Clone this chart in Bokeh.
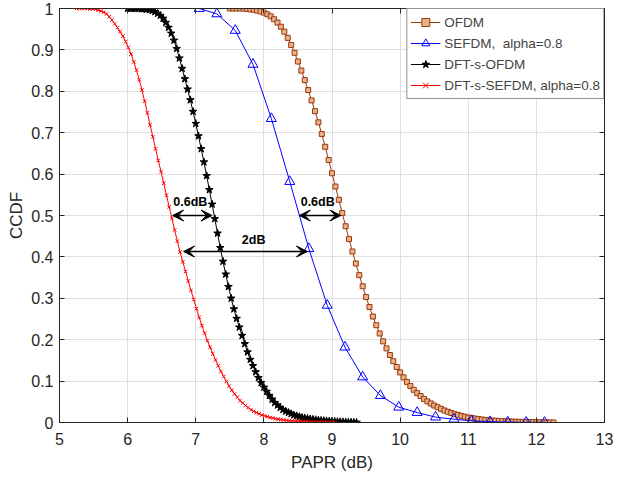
from bokeh.plotting import figure
from bokeh.models import (ColumnDataSource, FixedTicker, LinearAxis, Legend,
                          LegendItem, Arrow, VeeHead, Range1d, CustomLabelingPolicy)
from bokeh.core.properties import value
from bokeh.embed import file_html
from bokeh.resources import INLINE

FONT = "Liberation Sans"

# ---------------- data ----------------
x_ticks = [5, 6, 7, 8, 9, 10, 11, 12, 13]
x_tick_labels = ["5", "6", "7", "8", "9", "10", "11", "12", "13"]
y_ticks = [0, 0.1, 0.2, 0.3, 0.4, 0.5, 0.6, 0.7, 0.8, 0.9, 1]
y_tick_labels = ["0", "0.1", "0.2", "0.3", "0.4", "0.5", "0.6", "0.7", "0.8", "0.9", "1"]

# OFDM  (bins start 7.50 dB, 0.05 dB apart)
ofdm_start, ofdm_step = 7.50, 0.05
ofdm_y = [1.000, 1.000, 1.000, 1.000, 1.000, 0.999, 0.998, 0.997, 0.995, 0.993,
          0.990, 0.986, 0.981, 0.974, 0.966, 0.956, 0.944, 0.929, 0.912, 0.893,
          0.872, 0.850, 0.827, 0.803, 0.778, 0.752, 0.725, 0.697, 0.666, 0.634,
          0.602, 0.570, 0.538, 0.506, 0.474, 0.443, 0.413, 0.384, 0.356, 0.329,
          0.303, 0.279, 0.256, 0.235, 0.215, 0.196, 0.179, 0.163, 0.148, 0.134,
          0.121, 0.109, 0.098, 0.088, 0.079, 0.071, 0.064, 0.057, 0.051, 0.046,
          0.041, 0.037, 0.033, 0.029, 0.026, 0.023, 0.020, 0.018, 0.016, 0.014,
          0.012, 0.011, 0.0095, 0.0083, 0.0072, 0.0063, 0.0055, 0.0048, 0.0042, 0.0037,
          0.0032, 0.0028, 0.0024, 0.0021, 0.0018, 0.0016, 0.0014, 0.0012, 0.0010, 0.0008,
          0.0007, 0.0005, 0.0004, 0.0003, 0.0002, 0.0001]

# SEFDM, alpha = 0.8
sefdm_x = [7.05, 7.31, 7.58, 7.84, 8.11, 8.38, 8.66, 8.93, 9.19, 9.45,
           9.71, 9.98, 10.25, 10.52, 10.79, 11.05, 11.32, 11.58, 11.85, 12.12]
sefdm_y = [1.000, 0.987, 0.947, 0.865, 0.734, 0.582, 0.420, 0.283, 0.182, 0.110,
           0.065, 0.037, 0.024, 0.013, 0.008, 0.004, 0.002, 0.001, 0.0005, 0.0002]

# DFT-s-OFDM  (bins start 6.00 dB, 0.04 dB apart)
dfto_start, dfto_step = 6.00, 0.04
dfto_y = [1.000, 1.000, 1.000, 1.000, 1.000, 0.999, 0.999, 0.998, 0.997, 0.995,
          0.992, 0.988, 0.983, 0.976, 0.966, 0.954, 0.940, 0.923, 0.903, 0.880,
          0.855, 0.830, 0.805, 0.779, 0.751, 0.722, 0.692, 0.661, 0.629, 0.596,
          0.562, 0.527, 0.492, 0.457, 0.422, 0.389, 0.358, 0.328, 0.300, 0.274,
          0.251, 0.230, 0.210, 0.190, 0.170, 0.152, 0.137, 0.122, 0.108, 0.096,
          0.085, 0.075, 0.065, 0.056, 0.048, 0.042, 0.036, 0.031, 0.027, 0.024,
          0.021, 0.018, 0.016, 0.014, 0.012, 0.011, 0.0095, 0.0085, 0.0075, 0.0066,
          0.0058, 0.0051, 0.0045, 0.0039, 0.0034, 0.0029, 0.0025, 0.0021, 0.0017, 0.0014,
          0.0011, 0.0008, 0.0006, 0.0004, 0.0002]

# DFT-s-SEFDM, alpha = 0.8  (bins start 5.25 dB, 0.04 dB apart)
dfts_start, dfts_step = 5.25, 0.04
dfts_y = [1.000, 1.000, 1.000, 1.000, 1.000, 0.999, 0.999, 0.998, 0.996, 0.994,
          0.991, 0.987, 0.980, 0.972, 0.963, 0.954, 0.944, 0.933, 0.920, 0.906,
          0.890, 0.871, 0.851, 0.828, 0.803, 0.776, 0.748, 0.719, 0.690, 0.661,
          0.633, 0.606, 0.578, 0.549, 0.521, 0.493, 0.465, 0.438, 0.412, 0.388,
          0.365, 0.342, 0.319, 0.297, 0.275, 0.254, 0.234, 0.216, 0.198, 0.182,
          0.166, 0.151, 0.137, 0.123, 0.111, 0.099, 0.088, 0.078, 0.069, 0.061,
          0.053, 0.047, 0.041, 0.036, 0.031, 0.027, 0.024, 0.021, 0.018, 0.016,
          0.014, 0.012, 0.011, 0.009, 0.008, 0.007, 0.006, 0.005, 0.0045, 0.004,
          0.0035, 0.003, 0.0026, 0.0022, 0.0019, 0.0016, 0.0014, 0.0012, 0.001, 0.0008,
          0.0007, 0.0005, 0.0004, 0.0003, 0.0002, 0.0001]

legend_labels = ["OFDM", "SEFDM,\u00a0\u00a0alpha=0.8", "DFT-s-OFDM", "DFT-s-SEFDM, alpha=0.8"]

# annotations (double arrows and their texts)
arrow_x0 = [6.66, 8.52, 6.82]
arrow_x1 = [7.24, 9.13, 8.64]
arrow_y = [0.5, 0.5, 0.413]
note_x = [6.92, 8.79, 7.85]
note_y = [0.532, 0.532, 0.440]
note_text = ["0.6dB", "0.6dB", "2dB"]

# ---------------- build ----------------
ofdm_x = [round(ofdm_start + i * ofdm_step, 3) for i in range(len(ofdm_y))]
dfto_x = [round(dfto_start + i * dfto_step, 3) for i in range(len(dfto_y))]
dfts_x = [round(dfts_start + i * dfts_step, 3) for i in range(len(dfts_y))]

p = figure(width=620, height=476, x_range=Range1d(5, 13), y_range=Range1d(0, 1),
           output_backend="svg", toolbar_location=None,
           min_border_left=59, min_border_right=16, min_border_top=8, min_border_bottom=54)
p.background_fill_color = "white"
p.border_fill_color = "white"
p.outline_line_color = "#262626"
p.outline_line_width = 1

for ax in (p.xaxis[0], p.yaxis[0]):
    ax.major_tick_in = 5
    ax.major_tick_out = 0
    ax.minor_tick_line_color = None
    ax.axis_line_color = "#262626"
    ax.major_tick_line_color = "#262626"
    ax.major_label_text_font = FONT
    ax.major_label_text_font_size = "16px"
    ax.major_label_text_color = "#262626"
    ax.axis_label_text_font = FONT
    ax.axis_label_text_font_size = "17px"
    ax.axis_label_text_font_style = "normal"
    ax.axis_label_text_color = "#262626"

p.xaxis.ticker = FixedTicker(ticks=x_ticks)
p.yaxis.ticker = FixedTicker(ticks=y_ticks)
p.xaxis.major_label_overrides = {t: s for t, s in zip(x_ticks, x_tick_labels)}
p.yaxis.major_label_overrides = {t: s for t, s in zip(y_ticks, y_tick_labels)}
p.xaxis.axis_label = "PAPR (dB)"
p.yaxis.axis_label = "CCDF"
p.xaxis.major_label_standoff = 10
p.xaxis.axis_label_standoff = 5
p.yaxis.major_label_standoff = 6
p.yaxis.axis_label_standoff = 2

# box axes on top and right: inward ticks only, no labels drawn
hide_all = CustomLabelingPolicy(code="for (const i of indices) { indices.unset(i) } return indices")
for place in ("above", "right"):
    ax = LinearAxis(ticker=FixedTicker(ticks=x_ticks if place == "above" else y_ticks),
                    major_label_text_font_size="0px", major_label_standoff=0,
                    major_label_policy=hide_all,
                    major_tick_in=5, major_tick_out=0, minor_tick_line_color=None,
                    axis_line_color="#262626", major_tick_line_color="#262626")
    p.add_layout(ax, place)

p.xgrid.ticker = FixedTicker(ticks=x_ticks)
p.ygrid.ticker = FixedTicker(ticks=y_ticks)
for g in (p.xgrid[0], p.ygrid[0]):
    g.grid_line_color = "#dfdfdf"
    g.grid_line_width = 1

brown = "#9A3A0A"
l1 = p.line(ofdm_x, ofdm_y, line_color=brown, line_width=1)
m1 = p.scatter(ofdm_x, ofdm_y, marker="square", size=5, line_color=brown,
               line_width=1, fill_color="#e9b08a")
l2 = p.line(sefdm_x, sefdm_y, line_color="#0000FF", line_width=1)
m2 = p.scatter(sefdm_x, sefdm_y, marker="triangle", size=10, line_color="#0000FF",
               line_width=1, fill_color=None)
l3 = p.line(dfto_x, dfto_y, line_color="black", line_width=1)
m3 = p.scatter(dfto_x, dfto_y, marker="star", size=8, line_color="black",
               line_width=1, fill_color="black")
l4 = p.line(dfts_x, dfts_y, line_color="#FF0000", line_width=1)
m4 = p.scatter(dfts_x, dfts_y, marker="x", size=5, line_color="#FF0000", line_width=1)

arrow_src = ColumnDataSource(dict(x0=arrow_x0, x1=arrow_x1, y=arrow_y))
p.add_layout(Arrow(start=VeeHead(size=11, fill_color="black", line_color="black"),
                   end=VeeHead(size=11, fill_color="black", line_color="black"),
                   x_start="x0", y_start="y", x_end="x1", y_end="y",
                   line_width=1.5, line_color="black", source=arrow_src))
p.text(x=note_x, y=note_y, text=note_text, text_font=value(FONT),
       text_font_style="bold", text_font_size="12.5px", text_align="center",
       text_baseline="middle", text_color="black")

legend = Legend(items=[LegendItem(label=legend_labels[0], renderers=[l1, m1]),
                       LegendItem(label=legend_labels[1], renderers=[l2, m2]),
                       LegendItem(label=legend_labels[2], renderers=[l3, m3]),
                       LegendItem(label=legend_labels[3], renderers=[l4, m4])],
                location="top_right", margin=0, padding=3, spacing=1,
                label_standoff=4, glyph_width=30, glyph_height=20, label_height=20,
                label_text_font=FONT, label_text_font_size="13.5px",
                border_line_color="#262626", border_line_width=1,
                background_fill_color="white", background_fill_alpha=1)
p.add_layout(legend)

open("out.html", "w").write(file_html(p, INLINE))
